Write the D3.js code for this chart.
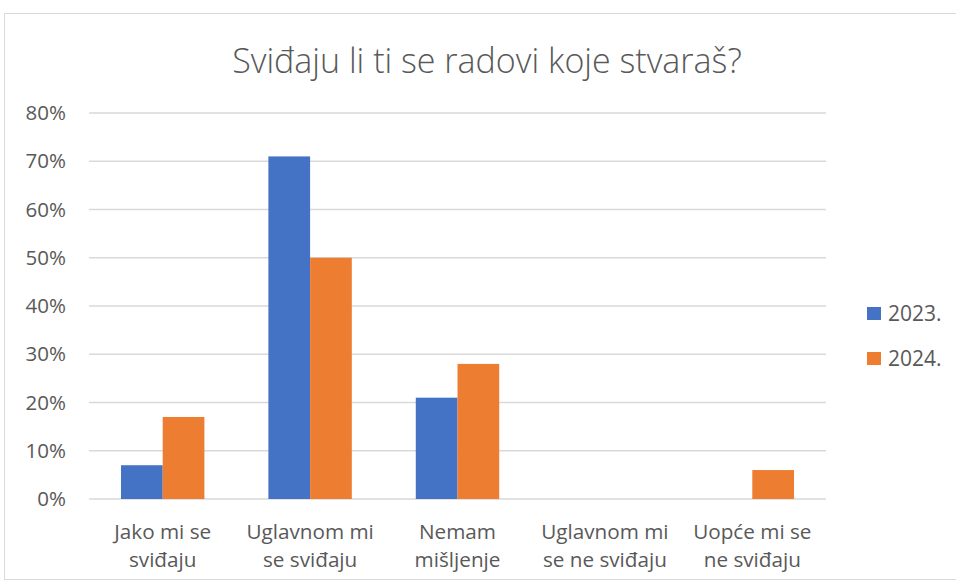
<!DOCTYPE html>
<html>
<head>
  <meta charset="utf-8"/>
  <title>Sviđaju li ti se radovi</title>
  <style>
    body { margin: 0; background: #fff; }
    text { font-family: "Open Sans", sans-serif; fill: #595959; }
  </style>
</head>
<body>
  <svg id="chart" width="956" height="582"></svg>

  <script src="https://d3js.org/d3.v7.min.js"></script>
  <script>

  // data
  var categories = [
    ["Jako mi se", "sviđaju"],
    ["Uglavnom mi", "se sviđaju"],
    ["Nemam", "mišljenje"],
    ["Uglavnom mi", "se ne sviđaju"],
    ["Uopće mi se", "ne sviđaju"]
  ];
  var years = ["2023.", "2024."];
  var values2023 = [0.07, 0.71, 0.21, 0, 0];
  var values2024 = [0.17, 0.50, 0.28, 0, 0.06];
  var yTicks = [0, 0.1, 0.2, 0.3, 0.4, 0.5, 0.6, 0.7, 0.8];
  var colors = ["#4472C4", "#ED7D31"];

  var svg = d3.select("#chart");

  // outer frame
  svg.append("rect")
    .attr("x", 4.5).attr("y", 13.5)
    .attr("width", 960).attr("height", 566)
    .attr("fill", "none")
    .attr("stroke", "#D9D9D9");

  var plotL = 89, plotR = 826, plotT = 113, plotB = 499;

  var x0 = d3.scaleBand()
    .domain(d3.range(categories.length))
    .range([plotL, plotR]);

  var gap = x0.bandwidth() * 0.434;
  var x1 = d3.scaleBand()
    .domain(years)
    .range([gap / 2, x0.bandwidth() - gap / 2]);

  var y = d3.scaleLinear().domain([0, 0.8]).range([plotB, plotT]);

  //gridlines:
  svg.append("g")
    .selectAll("line")
    .data(yTicks)
    .enter().append("line")
    .attr("x1", plotL).attr("x2", plotR)
    .attr("y1", function(d){ return y(d); })
    .attr("y2", function(d){ return y(d); })
    .attr("stroke", "#D9D9D9")
    .attr("stroke-width", 1.3);

  // y axis labels
  var yAxis = d3.axisLeft(y)
    .tickValues(yTicks)
    .tickFormat(d3.format(".0%"))
    .tickSize(0)
    .tickPadding(23);
  var yg = svg.append("g")
    .attr("transform", "translate(" + plotL + ",0)")
    .call(yAxis);
  yg.select(".domain").remove();
  yg.selectAll("text")
    .style("font-family", "'Open Sans', sans-serif")
    .style("font-size", "20.5px")
    .attr("fill", "#595959");

  //bars:
  var series = [values2023, values2024];
  series.forEach(function(vals, s){
    svg.append("g")
      .selectAll("rect")
      .data(vals)
      .enter().append("rect")
      .attr("x", function(d, i){ return x0(i) + x1(years[s]); })
      .attr("width", x1.bandwidth())
      .attr("y", function(d){ return y(d); })
      .attr("height", function(d){ return plotB - y(d); })
      .attr("fill", colors[s]);
  });

  // category labels
  var lab = svg.append("g")
    .selectAll("text")
    .data(categories)
    .enter().append("text")
    .attr("text-anchor", "middle")
    .style("font-size", "20.7px")
    .attr("transform", function(d, i){ return "translate(" + (x0(i) + x0.bandwidth() / 2) + ",539)"; });
  lab.append("tspan").attr("x", 0).attr("y", 0).text(function(d){ return d[0]; });
  lab.append("tspan").attr("x", 0).attr("y", 28).text(function(d){ return d[1]; });

  //legend:
  var leg = svg.append("g")
    .selectAll("g")
    .data(years)
    .enter().append("g")
    .attr("transform", function(d, i){ return "translate(867," + (307 + i * 45) + ")"; });
  leg.append("rect")
    .attr("width", 14).attr("height", 13)
    .attr("fill", function(d, i){ return colors[i]; });
  leg.append("text")
    .attr("x", 21).attr("y", 13.5)
    .style("font-size", "21px")
    .text(function(d){ return d; });

  // title
  svg.append("text")
    .attr("x", 487).attr("y", 73)
    .attr("text-anchor", "middle")
    .style("font-size", "34px")
    .style("font-weight", "300")
    .text("Sviđaju li ti se radovi koje stvaraš?");

  </script>
</body>
</html>
